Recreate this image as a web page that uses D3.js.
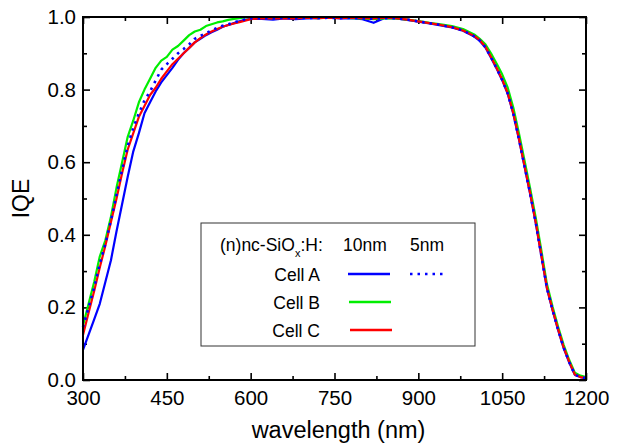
<!DOCTYPE html>
<meta charset="utf-8">
<script src="https://d3js.org/d3.v7.min.js"></script>
<style>
    body { margin: 0; background: #fff; }
    svg text { font-family: "Liberation Sans", Arial, sans-serif; fill: #000; }
</style>
<div id="chart"></div>
<script>
    // wavelengths (nm) shared by all curves
    var wavelength = [
        300, 310, 320, 330, 340, 350, 360, 370, 380, 390, 400, 410, 420, 430, 440, 450,
        460, 470, 480, 490, 500, 510, 520, 530, 540, 550, 560, 570, 580, 590, 600,
        620, 640, 660, 680, 700, 720, 740, 760, 780, 800, 820, 840, 860, 880, 900, 920, 940, 960, 980,
        1000, 1010, 1020, 1030, 1040, 1050, 1060, 1070, 1080, 1090, 1100,
        1110, 1120, 1130, 1140, 1150, 1160, 1170, 1180, 1190, 1200
    ];

    // Cell A, 10nm
    var cellA10 = [
        0.083, 0.125, 0.167, 0.21, 0.27, 0.33, 0.41, 0.485, 0.56, 0.63, 0.68, 0.735, 0.765, 0.795, 0.82, 0.84,
        0.86, 0.882, 0.90, 0.915, 0.93, 0.94, 0.95, 0.958, 0.965, 0.973, 0.978, 0.983, 0.988, 0.992, 0.995,
        0.995, 0.993, 0.996, 0.994, 0.996, 0.997, 0.999, 0.996, 0.997, 0.994, 0.984, 0.997, 0.996, 0.992, 0.987, 0.982, 0.977, 0.971, 0.962,
        0.946, 0.934, 0.916, 0.888, 0.858, 0.826, 0.788, 0.733, 0.663, 0.588, 0.513,
        0.433, 0.343, 0.253, 0.193, 0.138, 0.088, 0.048, 0.014, 0.008, 0.005
    ];

    // Cell A, 5nm
    var cellA5 = [
        0.146, 0.20, 0.255, 0.32, 0.375, 0.44, 0.51, 0.58, 0.645, 0.695, 0.735, 0.77, 0.795, 0.825, 0.855, 0.87,
        0.885, 0.90, 0.912, 0.925, 0.94, 0.948, 0.955, 0.963, 0.97, 0.976, 0.98, 0.985, 0.99, 0.993, 0.996,
        0.997, 0.996, 0.998, 0.997, 0.998, 0.997, 0.998, 0.997, 0.998, 0.996, 0.995, 0.997, 0.997, 0.993, 0.988, 0.983, 0.978, 0.972, 0.963,
        0.947, 0.935, 0.917, 0.889, 0.859, 0.827, 0.789, 0.734, 0.664, 0.589, 0.514,
        0.434, 0.344, 0.254, 0.194, 0.139, 0.089, 0.049, 0.015, 0.008, 0.005
    ];

    // Cell B, 10nm
    var cellB10 = [
        0.15, 0.21, 0.27, 0.34, 0.385, 0.45, 0.53, 0.60, 0.67, 0.715, 0.765, 0.80, 0.83, 0.86, 0.88, 0.89,
        0.91, 0.92, 0.935, 0.95, 0.96, 0.965, 0.975, 0.98, 0.985, 0.988, 0.992, 0.995, 0.997, 0.999, 1.0,
        0.998, 0.997, 0.998, 0.998, 0.999, 0.997, 0.998, 0.998, 0.997, 0.996, 0.994, 0.996, 0.996, 0.993, 0.989, 0.984, 0.98, 0.975, 0.967,
        0.952, 0.94, 0.925, 0.90, 0.872, 0.842, 0.805, 0.75, 0.68, 0.605, 0.528,
        0.448, 0.358, 0.265, 0.203, 0.147, 0.097, 0.055, 0.02, 0.012, 0.008
    ];

    // Cell C, 10nm
    var cellC10 = [
        0.124, 0.185, 0.245, 0.31, 0.37, 0.435, 0.50, 0.57, 0.635, 0.68, 0.725, 0.755, 0.785, 0.805, 0.83, 0.85,
        0.87, 0.885, 0.90, 0.915, 0.93, 0.942, 0.952, 0.96, 0.967, 0.973, 0.978, 0.982, 0.986, 0.99, 0.994,
        0.997, 0.996, 0.997, 0.996, 0.998, 0.997, 0.998, 0.997, 0.998, 0.997, 0.996, 0.998, 0.997, 0.993, 0.988, 0.983, 0.978, 0.972, 0.963,
        0.948, 0.936, 0.918, 0.89, 0.86, 0.828, 0.79, 0.735, 0.665, 0.59, 0.515,
        0.435, 0.345, 0.255, 0.195, 0.14, 0.09, 0.05, 0.015, 0.008, 0.005
    ];

    var xMajor = [300, 450, 600, 750, 900, 1050, 1200];
    var xMinor = [375, 525, 675, 825, 975, 1125];
    var yMajor = [0.0, 0.2, 0.4, 0.6, 0.8, 1.0];
    var yMinor = [0.1, 0.3, 0.5, 0.7, 0.9];

    // draw order: blue solid, green, red, blue dotted
    var series = [
        { name: "Cell A 10nm", values: cellA10, color: "#0000ff", dash: null },
        { name: "Cell B 10nm", values: cellB10, color: "#00ee00", dash: null },
        { name: "Cell C 10nm", values: cellC10, color: "#ff0000", dash: null },
        { name: "Cell A 5nm", values: cellA5, color: "#0000ff", dash: "2.5,5" }
    ];

    var legendRows = ["Cell A", "Cell B", "Cell C"];
    var legendColors = ["#0000ff", "#00ee00", "#ff0000"];

    var W = 619, H = 446;
    var margin = { top: 17, right: 33, bottom: 66, left: 83 },
        width = W - margin.left - margin.right,
        height = H - margin.top - margin.bottom;

    var svg = d3.select("#chart").append("svg")
        .attr("width", W)
        .attr("height", H);

    var g = svg.append("g")
        .attr("transform", "translate(" + margin.left + "," + margin.top + ")");

    var x = d3.scaleLinear().domain([300, 1200]).range([0, width]);
    var y = d3.scaleLinear().domain([0, 1]).range([height, 0]);

    // axes: ticks point inward on all four sides
    function styleAxis(sel) {
        sel.select(".domain").remove();
        sel.selectAll(".tick line").attr("stroke", "#000").attr("stroke-width", 1.6);
        sel.selectAll(".tick text").style("font-size", "20.5px");
    }

    g.append("g").attr("transform", "translate(0," + height + ")")
        .call(d3.axisBottom(x).tickValues(xMajor).tickSize(-7).tickPadding(10).tickFormat(d3.format("d")))
        .call(styleAxis);
    g.append("g").attr("transform", "translate(0," + height + ")")
        .call(d3.axisBottom(x).tickValues(xMinor).tickSize(-4).tickFormat(""))
        .call(styleAxis);
    g.append("g")
        .call(d3.axisTop(x).tickValues(xMajor).tickSize(-7).tickFormat(""))
        .call(styleAxis);
    g.append("g")
        .call(d3.axisTop(x).tickValues(xMinor).tickSize(-4).tickFormat(""))
        .call(styleAxis);

    g.append("g")
        .call(d3.axisLeft(y).tickValues(yMajor).tickSize(-7).tickPadding(7).tickFormat(d3.format(".1f")))
        .call(styleAxis);
    g.append("g")
        .call(d3.axisLeft(y).tickValues(yMinor).tickSize(-4).tickFormat(""))
        .call(styleAxis);
    g.append("g").attr("transform", "translate(" + width + ",0)")
        .call(d3.axisRight(y).tickValues(yMajor).tickSize(-7).tickFormat(""))
        .call(styleAxis);
    g.append("g").attr("transform", "translate(" + width + ",0)")
        .call(d3.axisRight(y).tickValues(yMinor).tickSize(-4).tickFormat(""))
        .call(styleAxis);

    // curves
    var line = d3.line()
        .x(function (d, i) { return x(wavelength[i]); })
        .y(function (d) { return y(d); });

    g.selectAll(".curve")
        .data(series)
        .enter()
        .append("path")
        .attr("class", "curve")
        .attr("d", function (d) { return line(d.values); })
        .attr("fill", "none")
        .attr("stroke", function (d) { return d.color; })
        .attr("stroke-width", function (d) { return d.dash ? 2.6 : 2.2; })
        .attr("stroke-dasharray", function (d) { return d.dash; })
        .attr("stroke-linejoin", "round");

    // frame
    g.append("rect")
        .attr("width", width)
        .attr("height", height)
        .attr("fill", "none")
        .attr("stroke", "#000")
        .attr("stroke-width", 2);

    // axis titles
    svg.append("text")
        .attr("x", margin.left + width / 2 + 4)
        .attr("y", 438)
        .attr("text-anchor", "middle")
        .style("font-size", "23.5px")
        .text("wavelength (nm)");

    svg.append("text")
        .attr("transform", "translate(29," + (margin.top + height / 2) + ") rotate(-90)")
        .attr("text-anchor", "middle")
        .style("font-size", "23px")
        .text("IQE");

    // legend
    var legend = svg.append("g");
    legend.append("rect")
        .attr("x", 201).attr("y", 223)
        .attr("width", 274).attr("height", 123)
        .attr("fill", "#fff")
        .attr("stroke", "#333")
        .attr("stroke-width", 1);

    var head = legend.append("text")
        .attr("x", 220).attr("y", 251)
        .style("font-size", "17.5px");
    head.append("tspan").text("(n)nc-SiO");
    head.append("tspan").attr("dy", 6).style("font-size", "11px").text("x");
    head.append("tspan").attr("dy", -6).text(":H:");

    legend.append("text").attr("x", 343).attr("y", 251).style("font-size", "17.5px").text("10nm");
    legend.append("text").attr("x", 410).attr("y", 251).style("font-size", "17.5px").text("5nm");

    legendRows.forEach(function (label, i) {
        var cy = 274 + i * 28;
        legend.append("text")
            .attr("x", 320).attr("y", cy + 7)
            .attr("text-anchor", "end")
            .style("font-size", "17.5px")
            .text(label);
        legend.append("line")
            .attr("x1", 348 + i).attr("x2", 390 + i)
            .attr("y1", cy).attr("y2", cy)
            .attr("stroke", legendColors[i])
            .attr("stroke-width", 2.4);
    });

    legend.append("line")
        .attr("x1", 410).attr("x2", 447)
        .attr("y1", 274).attr("y2", 274)
        .attr("stroke", "#0000ff")
        .attr("stroke-width", 2.6)
        .attr("stroke-dasharray", "2.5,5");
</script>
